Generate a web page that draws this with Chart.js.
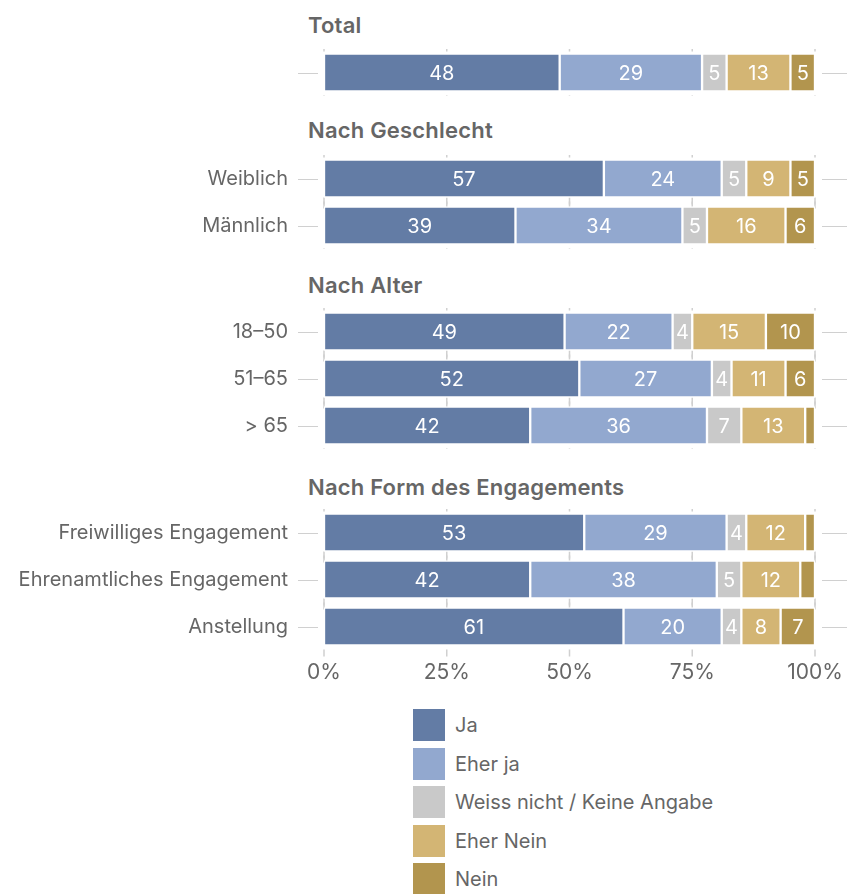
<!DOCTYPE html>
<html>
<head>
<meta charset="utf-8">
<script src="https://cdn.jsdelivr.net/npm/chart.js@4/dist/chart.umd.min.js"></script>
<style>
  body { margin: 0; background: #fff; font-family: Inter, sans-serif; }
  #wrap { position: relative; width: 847px; height: 894px; }
  .head { position: absolute; left: 308px; font-weight: 600; font-size: 22px; line-height: 26px; color: #666; white-space: nowrap; letter-spacing: 0.2px; }
  .box { position: absolute; left: 0; width: 847px; }
  .leg { position: absolute; left: 413px; height: 32px; display: flex; align-items: center; font-size: 20px; color: #666; white-space: nowrap; }
  .leg span.sq { display: inline-block; width: 32px; height: 32px; margin-right: 10px; }
</style>
</head>
<body>
<div id="wrap"></div>
<script>
// data
const groupNames = ["Total", "Nach Geschlecht", "Nach Alter", "Nach Form des Engagements"];
const groupSizes = [1, 2, 3, 3];
const rowLabels = ["", "Weiblich", "Männlich", "18–50", "51–65", "> 65",
	"Freiwilliges Engagement", "Ehrenamtliches Engagement", "Anstellung"];
const seriesNames = ["Ja", "Eher ja", "Weiss nicht / Keine Angabe", "Eher Nein", "Nein"];
const ja = [48, 57, 39, 49, 52, 42, 53, 42, 61];
const eherJa = [29, 24, 34, 22, 27, 36, 29, 38, 20];
const weissNicht = [5, 5, 5, 4, 4, 7, 4, 5, 4];
const eherNein = [13, 9, 16, 15, 11, 13, 12, 12, 8];
const nein = [5, 5, 6, 10, 6, 2, 2, 3, 7];
const xTicks = [0, 25, 50, 75, 100];

const seriesValues = [ja, eherJa, weissNicht, eherNein, nein];
const colors = ["#637ca5", "#92a8cf", "#c9c9c9", "#d3b574", "#b2954e"];

// layout (pixels)
const headY = [25, 130, 285, 487];
const firstRowY = [72, 178, 331, 532];
const rowH = 47;
const axisH = 45;
const gray = "#666";
const lineGray = "#d0d0d0";

const wrap = document.getElementById("wrap");

const rowDecor = {
	id: "rowDecor",
	beforeDatasetsDraw(chart) {
		let ctx = chart.ctx;
		let xs = chart.scales.x, ys = chart.scales.y, ca = chart.chartArea;
		ctx.save();
		ctx.strokeStyle = lineGray;
		chart.data.labels.forEach((l, i) => {
			let yc = Math.round(ys.getPixelForValue(i)) + 0.5;
			ctx.lineWidth = 1;
			ctx.beginPath();
			ctx.moveTo(ca.left - 26, yc);
			ctx.lineTo(ca.left - 6, yc);
			ctx.moveTo(ca.right + 7, yc);
			ctx.lineTo(chart.width, yc);
			ctx.stroke();
			ctx.lineWidth = 1.5;
			for (let t of xTicks) {
				let x = xs.getPixelForValue(t);
				ctx.beginPath();
				ctx.moveTo(x, yc - 29);
				ctx.lineTo(x, yc - 22);
				ctx.moveTo(x, yc + 22);
				ctx.lineTo(x, yc + 29);
				ctx.stroke();
			}
		});
		ctx.restore();
	},
	afterDatasetsDraw(chart) {
		let ctx = chart.ctx;
		ctx.save();
		ctx.fillStyle = "#fff";
		ctx.font = "20px Inter, sans-serif";
		ctx.textAlign = "center";
		ctx.textBaseline = "middle";
		chart.data.datasets.forEach((ds, di) => {
			chart.getDatasetMeta(di).data.forEach((el, i) => {
				let v = ds.data[i];
				if (v < 4) return;
				let p = el.getCenterPoint();
				ctx.fillText(String(v), p.x, p.y + 1);
			});
		});
		ctx.restore();
	},
};

let start = 0;
groupNames.forEach((name, g) => {
	let n = groupSizes[g];
	let last = g === groupNames.length - 1;

	let h = document.createElement("div");
	h.className = "head";
	h.style.top = headY[g] - 13 + "px";
	h.textContent = name;
	wrap.appendChild(h);

	let box = document.createElement("div");
	box.className = "box";
	box.style.top = firstRowY[g] - rowH / 2 + "px";
	box.style.height = n * rowH + (last ? axisH : 0) + "px";
	let cv = document.createElement("canvas");
	box.appendChild(cv);
	wrap.appendChild(box);

	let labels = rowLabels.slice(start, start + n);
	let datasets = seriesNames.map((s, k) => ({
		label: s,
		data: seriesValues[k].slice(start, start + n),
		backgroundColor: colors[k],
		borderColor: "#fff",
		borderWidth: 1.5,
		borderSkipped: false,
		barThickness: 38,
	}));
	start += n;

	new Chart(cv, {
		type: "bar",
		data: { labels: labels, datasets: datasets },
		plugins: [rowDecor],
		options: {
			indexAxis: "y",
			responsive: true,
			maintainAspectRatio: false,
			animation: false,
			layout: { padding: { left: 0, right: 32, top: 0, bottom: 0 } },
			plugins: { legend: { display: false }, tooltip: { enabled: false } },
			scales: {
				x: {
					display: last,
					stacked: true,
					min: 0,
					max: 100,
					afterFit: (s) => {
						if (last) s.height = axisH;
						s.paddingLeft = 0;
						s.paddingRight = 0;
					},
					afterBuildTicks: (s) => { s.ticks = xTicks.map((v) => ({ value: v })); },
					ticks: {
						color: gray,
						font: { size: 21, family: "Inter" },
						padding: 10,
						maxRotation: 0,
						callback: (v) => v + "%",
					},
					grid: { display: false, drawTicks: false },
					border: { display: false },
				},
				y: {
					stacked: true,
					afterFit: (s) => { s.width = 324; s.paddingTop = 0; s.paddingBottom = 0; },
					ticks: {
						color: gray,
						font: { size: 20, family: "Inter" },
						padding: 36,
					},
					grid: { display: false, drawTicks: false },
					border: { display: false },
				},
			},
		},
	});
});

// legend
seriesNames.forEach((s, k) => {
	let d = document.createElement("div");
	d.className = "leg";
	d.style.top = 709 + k * 38.5 + "px";
	let sq = document.createElement("span");
	sq.className = "sq";
	sq.style.background = colors[k];
	d.appendChild(sq);
	d.appendChild(document.createTextNode(s));
	wrap.appendChild(d);
});
</script>
</body>
</html>
